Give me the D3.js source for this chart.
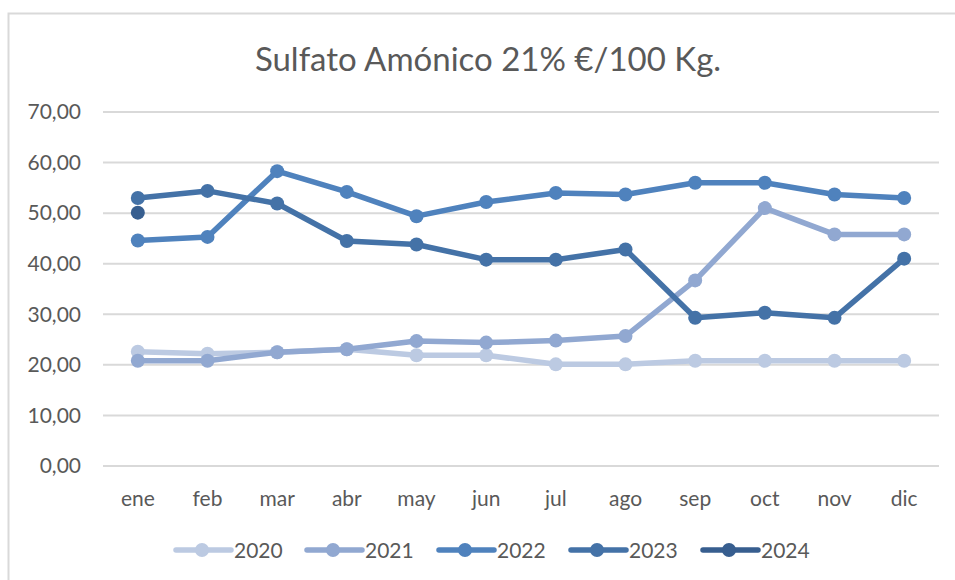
<!DOCTYPE html>
<html>
<head>
<meta charset="utf-8">
<script src="https://cdn.jsdelivr.net/npm/d3@7"></script>
<style>
body { margin: 0; background: #fff; }
svg text { font-family: Lato, "Open Sans", sans-serif; fill: #595959; }
</style>
</head>
<body>
<div id="chart"></div>
<script>
// months and yearly series (€/100 Kg)
var months = ["ene","feb","mar","abr","may","jun","jul","ago","sep","oct","nov","dic"];
var years = ["2020","2021","2022","2023","2024"];
var colors = ["#bccae2","#91a8d1","#4f82bd","#4472a7","#375e8f"];

var v2020 = [22.6, 22.2, 22.5, 23.1, 21.9, 21.9, 20.1, 20.1, 20.8, 20.8, 20.8, 20.8];
var v2021 = [20.8, 20.8, 22.5, 23.1, 24.7, 24.4, 24.8, 25.7, 36.7, 51.0, 45.8, 45.8];
var v2022 = [44.6, 45.3, 58.3, 54.2, 49.4, 52.2, 54.0, 53.7, 56.0, 56.0, 53.7, 53.0];
var v2023 = [53.0, 54.4, 51.9, 44.5, 43.8, 40.8, 40.8, 42.8, 29.3, 30.3, 29.3, 41.0];
var v2024 = [50.1];

var yTicks = [0, 10, 20, 30, 40, 50, 60, 70];

var series = [v2020, v2021, v2022, v2023, v2024];

//////////////////////////////////////////////////////////////////////////////

var width = 955, height = 580;
var svg = d3.select("#chart").append("svg")
    .attr("width", width)
    .attr("height", height);

// chart frame
svg.append("rect")
    .attr("x", 8.5).attr("y", 13.5)
    .attr("width", 960).attr("height", 580)
    .attr("fill", "none")
    .attr("stroke", "#d9d9d9")
    .attr("stroke-width", 2);

var xScale = d3.scaleBand().domain(months).range([103, 939]);
var yScale = d3.scaleLinear().domain([0, 70]).range([466, 112]);

// gridlines
svg.append("g")
    .selectAll("line")
    .data(yTicks)
    .enter()
    .append("line")
    .attr("x1", 103).attr("x2", 939)
    .attr("y1", function(d) { return yScale(d); })
    .attr("y2", function(d) { return yScale(d); })
    .attr("stroke", "#d9d9d9")
    .attr("stroke-width", 2);

// y axis labels
var yAxis = d3.axisLeft(yScale)
    .tickValues(yTicks)
    .tickSize(0)
    .tickPadding(0)
    .tickFormat(function(d) { return d3.format(".2f")(d).replace(".", ","); });
svg.append("g")
    .attr("transform", "translate(81,0)")
    .call(yAxis)
    .call(function(g) {
        g.select(".domain").remove();
        g.selectAll("text").attr("font-size", 21).attr("fill", "#595959")
            .attr("font-family", "Lato, sans-serif");
    });

// x axis labels
var xAxis = d3.axisBottom(xScale).tickSize(0).tickPadding(0);
svg.append("g")
    .attr("transform", "translate(0,491)")
    .call(xAxis)
    .call(function(g) {
        g.select(".domain").remove();
        g.selectAll("text").attr("font-size", 21).attr("fill", "#595959")
            .attr("font-family", "Lato, sans-serif");
    });

// lines
var line = d3.line()
    .x(function(d, i) { return xScale(months[i]) + xScale.bandwidth() / 2; })
    .y(function(d) { return yScale(d); });

series.forEach(function(vals, k) {
    var g = svg.append("g");
    g.append("path")
        .attr("d", line(vals))
        .attr("fill", "none")
        .attr("stroke", colors[k])
        .attr("stroke-width", 5.5)
        .attr("stroke-linejoin", "round");
    g.selectAll("circle")
        .data(vals)
        .enter()
        .append("circle")
        .attr("cx", function(d, i) { return xScale(months[i]) + xScale.bandwidth() / 2; })
        .attr("cy", function(d) { return yScale(d); })
        .attr("r", 7)
        .attr("fill", colors[k]);
});

// title
svg.append("text")
    .attr("x", 488).attr("y", 71)
    .attr("text-anchor", "middle")
    .attr("font-size", 33)
    .text("Sulfato Amónico 21% €/100 Kg.");

// legend
var legendX = [176, 307, 439, 571, 703];
var legend = svg.append("g")
    .selectAll("g")
    .data(years)
    .enter()
    .append("g")
    .attr("transform", function(d, i) { return "translate(" + legendX[i] + ",550)"; });
legend.append("line")
    .attr("x1", 0).attr("x2", 55)
    .attr("stroke", function(d, i) { return colors[i]; })
    .attr("stroke-width", 5.5)
    .attr("stroke-linecap", "round");
legend.append("circle")
    .attr("cx", 26).attr("r", 7)
    .attr("fill", function(d, i) { return colors[i]; });
legend.append("text")
    .attr("x", 58).attr("y", 7.5)
    .attr("font-size", 21)
    .text(function(d) { return d; });
</script>
</body>
</html>
